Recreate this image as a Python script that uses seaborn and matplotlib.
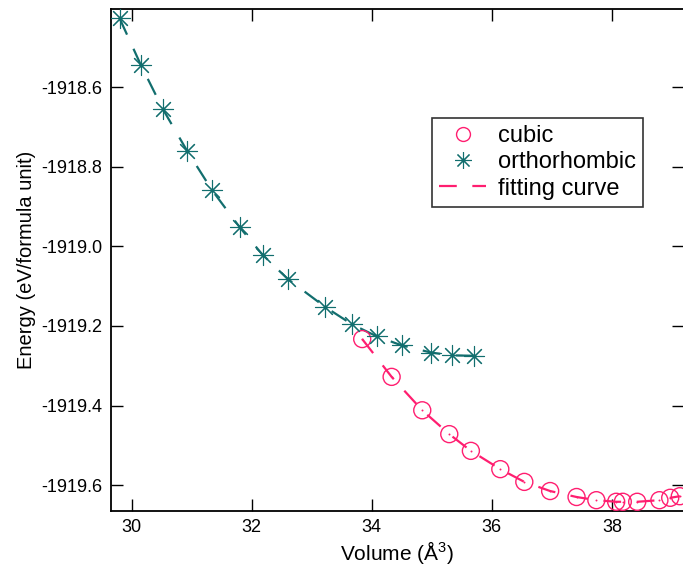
import numpy as np
import pandas as pd
import matplotlib
matplotlib.use("Agg")
import matplotlib.pyplot as plt
import seaborn as sns
from matplotlib.lines import Line2D

# ---- data ----
vol_cubic = [33.84, 34.33, 34.84, 35.29, 35.65, 36.14, 36.54, 36.97, 37.41,
             37.74, 38.07, 38.18, 38.42, 38.79, 38.97, 39.13]
e_cubic = [-1919.233, -1919.328, -1919.412, -1919.472, -1919.514, -1919.560,
           -1919.592, -1919.615, -1919.630, -1919.638, -1919.642, -1919.642,
           -1919.642, -1919.638, -1919.632, -1919.628]

vol_ortho = [29.80, 30.15, 30.52, 30.92, 31.34, 31.80, 32.18, 32.60, 33.22,
             33.67, 34.08, 34.50, 34.99, 35.34, 35.71]
e_ortho = [-1918.427, -1918.543, -1918.655, -1918.759, -1918.859, -1918.952,
           -1919.021, -1919.082, -1919.152, -1919.196, -1919.226, -1919.249,
           -1919.267, -1919.274, -1919.275]

x_ticks = [30, 32, 34, 36, 38]
y_ticks = [-1918.6, -1918.8, -1919.0, -1919.2, -1919.4, -1919.6]

labels = ["cubic", "orthorhombic", "fitting curve"]
x_label = "Volume (Å$^{3}$)"
y_label = "Energy (eV/formula unit)"

PINK = "#FF1E70"
TEAL = "#126E6E"

sns.set_theme(style="ticks")
plt.rcParams["font.family"] = ["Liberation Sans", "DejaVu Sans"]
plt.rcParams["mathtext.fontset"] = "custom"
plt.rcParams["mathtext.rm"] = "Liberation Sans"
plt.rcParams["mathtext.it"] = "Liberation Sans"
plt.rcParams["text.color"] = "black"
plt.rcParams["axes.labelcolor"] = "black"
plt.rcParams["xtick.color"] = "black"
plt.rcParams["ytick.color"] = "black"

fig = plt.figure(figsize=(6.83, 5.67), dpi=100)
ax = fig.add_axes([0.162, 0.0996, 0.8395, 0.8840])

df_c = pd.DataFrame({"V": vol_cubic, "E": e_cubic})
df_o = pd.DataFrame({"V": vol_ortho, "E": e_ortho})

# fitting curves (dashed)
sns.lineplot(data=df_o, x="V", y="E", ax=ax, color=TEAL, lw=1.6,
             sort=False, estimator=None, dashes=False, legend=False)
ax.lines[-1].set_dashes((8, 7))
sns.lineplot(data=df_c, x="V", y="E", ax=ax, color=PINK, lw=1.6,
             sort=False, estimator=None, dashes=False, legend=False)
ax.lines[-1].set_dashes((8, 7))

# markers
sns.scatterplot(data=df_c, x="V", y="E", ax=ax, marker="o", s=150,
                facecolor="none", edgecolor=PINK, linewidth=1.0, zorder=3,
                legend=False)
sns.scatterplot(data=df_c, x="V", y="E", ax=ax, marker="o", s=2,
                color=PINK, linewidth=0, zorder=3, legend=False)
sns.scatterplot(data=df_o, x="V", y="E", ax=ax, marker=(8, 2, 0), s=210,
                color=TEAL, edgecolor=TEAL, linewidth=0.8, zorder=3,
                legend=False)

ax.set_xlim(29.65, 39.2)
ax.set_ylim(-1919.664, -1918.404)
ax.set_xticks(x_ticks)
ax.set_yticks(y_ticks)
ax.set_xticklabels([f"{t}" for t in x_ticks])
ax.set_yticklabels([f"{t:.1f}" for t in y_ticks])
ax.tick_params(direction="in", length=8.5, width=1.0, colors="black",
               labelsize=13, top=True, right=True, pad=6)
for sp in ax.spines.values():
    sp.set_visible(True)
    sp.set_linewidth(1.3)
    sp.set_color("black")
    sp.set_clip_on(False)

ax.set_xlabel(x_label, fontsize=15, labelpad=2)
ax.set_ylabel(y_label, fontsize=14.5, labelpad=4)

# legend
h_c = Line2D([], [], ls="none", marker="o", ms=10, mfc="none", mec=PINK, mew=1.0)
h_o = Line2D([], [], ls="none", marker=(8, 2, 0), ms=12, color=TEAL, mew=0.8)
h_f = Line2D([], [], color=PINK, lw=1.6, dashes=(8, 7))
leg = ax.legend([h_c, h_o, h_f], labels, loc="upper left",
                bbox_to_anchor=(0.5605, 0.783), borderaxespad=0,
                fontsize=17, frameon=True, fancybox=False, edgecolor="black",
                handlelength=2.0, handletextpad=0.5, labelspacing=0.18,
                borderpad=0.3)
leg.get_frame().set_linewidth(1.2)

fig.savefig("out.png", dpi=100)
